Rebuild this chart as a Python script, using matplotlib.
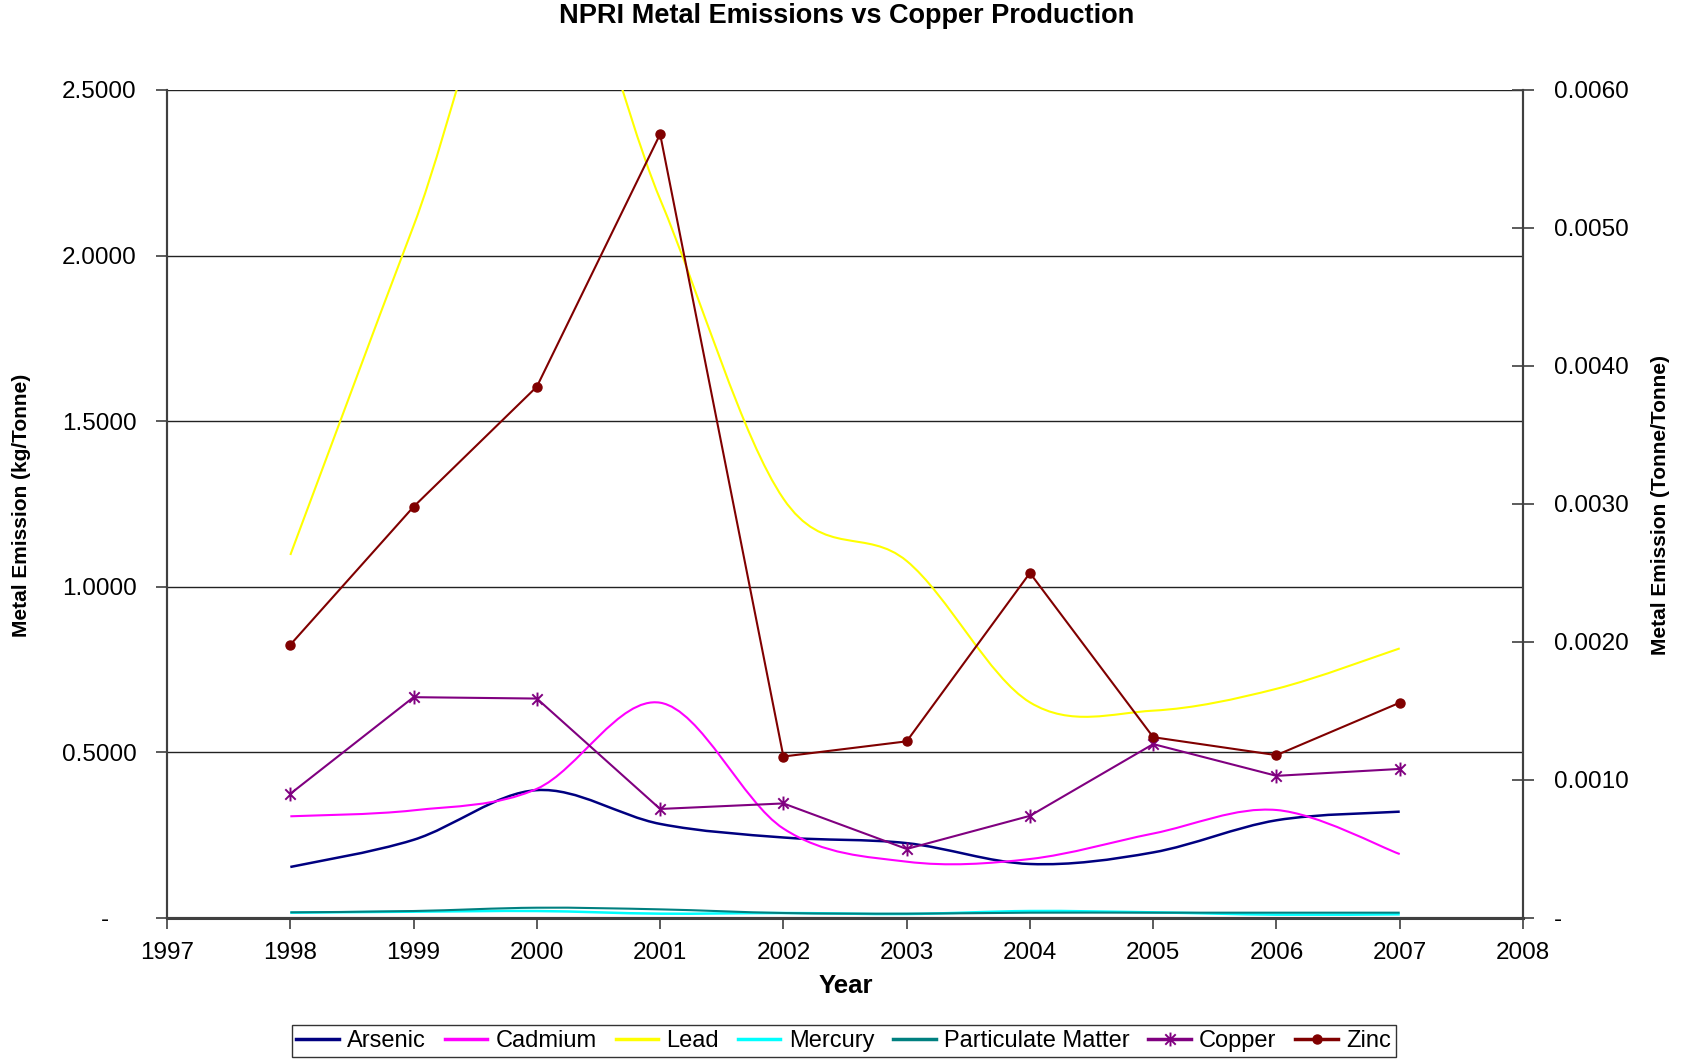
import numpy as np
import matplotlib
matplotlib.use("Agg")
import matplotlib.pyplot as plt
from matplotlib.path import Path
from matplotlib.patches import PathPatch
from matplotlib.lines import Line2D
from matplotlib.ticker import FuncFormatter

plt.rcParams['font.family'] = ['Liberation Sans', 'DejaVu Sans']

# data
years = [1998, 1999, 2000, 2001, 2002, 2003, 2004, 2005, 2006, 2007]

# left axis (kg/Tonne), drawn as smoothed lines
arsenic = [0.154, 0.236, 0.386, 0.284, 0.243, 0.226, 0.163, 0.198, 0.295, 0.321]
cadmium = [0.307, 0.325, 0.390, 0.650, 0.270, 0.170, 0.178, 0.255, 0.326, 0.193]
lead = [1.096, 2.090, 3.050, 2.170, 1.266, 1.078, 0.651, 0.626, 0.692, 0.814]
mercury = [0.016, 0.019, 0.021, 0.013, 0.015, 0.012, 0.021, 0.017, 0.010, 0.011]
particulate = [0.017, 0.021, 0.031, 0.026, 0.015, 0.013, 0.016, 0.016, 0.016, 0.016]

# right axis (Tonne/Tonne), straight lines with markers
copper = [0.00090, 0.00160, 0.00159, 0.00079, 0.00083, 0.00050, 0.00074, 0.00126, 0.00103, 0.00108]
zinc = [0.00198, 0.00298, 0.00385, 0.00568, 0.00117, 0.00128, 0.00250, 0.00131, 0.00118, 0.00156]

left_ticks = [0, 0.5, 1.0, 1.5, 2.0, 2.5]
right_ticks = [0, 0.001, 0.002, 0.003, 0.004, 0.005, 0.006]
year_ticks = list(range(1997, 2009))


def smooth_path(x, y):
    # excel-like smoothing: catmull-rom segments as cubic beziers
    n = len(x)
    verts = [(x[0], y[0])]
    codes = [Path.MOVETO]
    for i in range(n - 1):
        xa, ya = (x[i - 1], y[i - 1]) if i > 0 else (x[i], y[i])
        xb, yb = (x[i + 2], y[i + 2]) if i + 2 < n else (x[i + 1], y[i + 1])
        c1 = (x[i] + (x[i + 1] - xa) / 6.0, y[i] + (y[i + 1] - ya) / 6.0)
        c2 = (x[i + 1] - (xb - x[i]) / 6.0, y[i + 1] - (yb - y[i]) / 6.0)
        verts += [c1, c2, (x[i + 1], y[i + 1])]
        codes += [Path.CURVE4] * 3
    return Path(verts, codes)


# copper marker: asterisk made of a vertical bar and an x
star = Path([(0, -1), (0, 1), (-0.75, -0.75), (0.75, 0.75), (-0.75, 0.75), (0.75, -0.75)],
            [Path.MOVETO, Path.LINETO, Path.MOVETO, Path.LINETO, Path.MOVETO, Path.LINETO])

fig = plt.figure(figsize=(16.84, 10.61), dpi=100)
ax = fig.add_axes([0.0992, 0.1348, 0.8052, 0.7804])
ax2 = ax.twinx()

smooth_series = [
    ('Arsenic', arsenic, '#000080', 1.8),
    ('Cadmium', cadmium, '#FF00FF', 1.5),
    ('Lead', lead, '#FFFF00', 1.5),
    ('Mercury', mercury, '#00FFFF', 1.8),
    ('Particulate Matter', particulate, '#008080', 1.5),
]
handles = []
for name, vals, col, lw in smooth_series:
    patch = PathPatch(smooth_path(years, vals), facecolor='none', edgecolor=col,
                      lw=lw, transform=ax.transData, zorder=3)
    ax.add_patch(patch)
    handles.append(Line2D([], [], color=col, lw=2.5, label=name))

ax2.plot(years, copper, color='#800080', lw=1.5, marker=star, markersize=10,
         markeredgewidth=1.4, zorder=4)
ax2.plot(years, zinc, color='#800000', lw=1.5, marker='o', markersize=6.5, zorder=4)
handles.append(Line2D([], [], color='#800080', lw=2.5, marker=star, markersize=10,
                      markeredgewidth=1.4, label='Copper'))
handles.append(Line2D([], [], color='#800000', lw=2.5, marker='o', markersize=6.5,
                      label='Zinc'))

ax.set_xlim(1997, 2008)
ax.set_ylim(0, 2.5)
ax2.set_ylim(0, 0.006)
ax.set_xticks(year_ticks)
ax.set_yticks(left_ticks)
ax2.set_yticks(right_ticks)

ax.yaxis.set_major_formatter(FuncFormatter(lambda v, p: '-    ' if v == 0 else '%.4f' % v))
ax2.yaxis.set_major_formatter(FuncFormatter(lambda v, p: '-' if v == 0 else '%.4f' % v))

for a in (ax, ax2):
    for s in a.spines.values():
        s.set_color('#404040')
        s.set_linewidth(1.5)
    a.spines['top'].set_visible(False)
ax.spines['bottom'].set_linewidth(2.2)

ax.grid(axis='y', color='#222222', lw=1.0)
ax.set_axisbelow(True)

ax.tick_params(axis='y', direction='out', length=8, width=1.2, color='#404040',
               labelsize=17.5, pad=14)
ax.tick_params(axis='x', direction='out', length=8, width=1.2, color='#404040',
               labelsize=17.5, pad=9)
ax2.tick_params(axis='y', direction='inout', length=16, width=1.2, color='#404040',
                labelsize=17.5, pad=14)

fig.text(0.5025, 0.985, 'NPRI Metal Emissions vs Copper Production', ha='center',
         va='center', fontsize=19.5, fontweight='bold')
fig.text(0.5025, 0.071, 'Year', ha='center', va='center', fontsize=18.5, fontweight='bold')
fig.text(0.0125, 0.524, 'Metal Emission (kg/Tonne)', rotation=90, ha='center',
         va='center', fontsize=15, fontweight='bold')
fig.text(0.986, 0.524, 'Metal Emission (Tonne/Tonne)', rotation=90, ha='center',
         va='center', fontsize=15, fontweight='bold')

leg = fig.legend(handles=handles, loc='center', bbox_to_anchor=(0.501, 0.019), ncol=7,
                 fontsize=17, frameon=True, fancybox=False, edgecolor='black',
                 handlelength=1.8, handletextpad=0.35, columnspacing=0.8,
                 borderpad=0.2)
leg.get_frame().set_linewidth(1.0)

fig.savefig('out.png', dpi=100)
